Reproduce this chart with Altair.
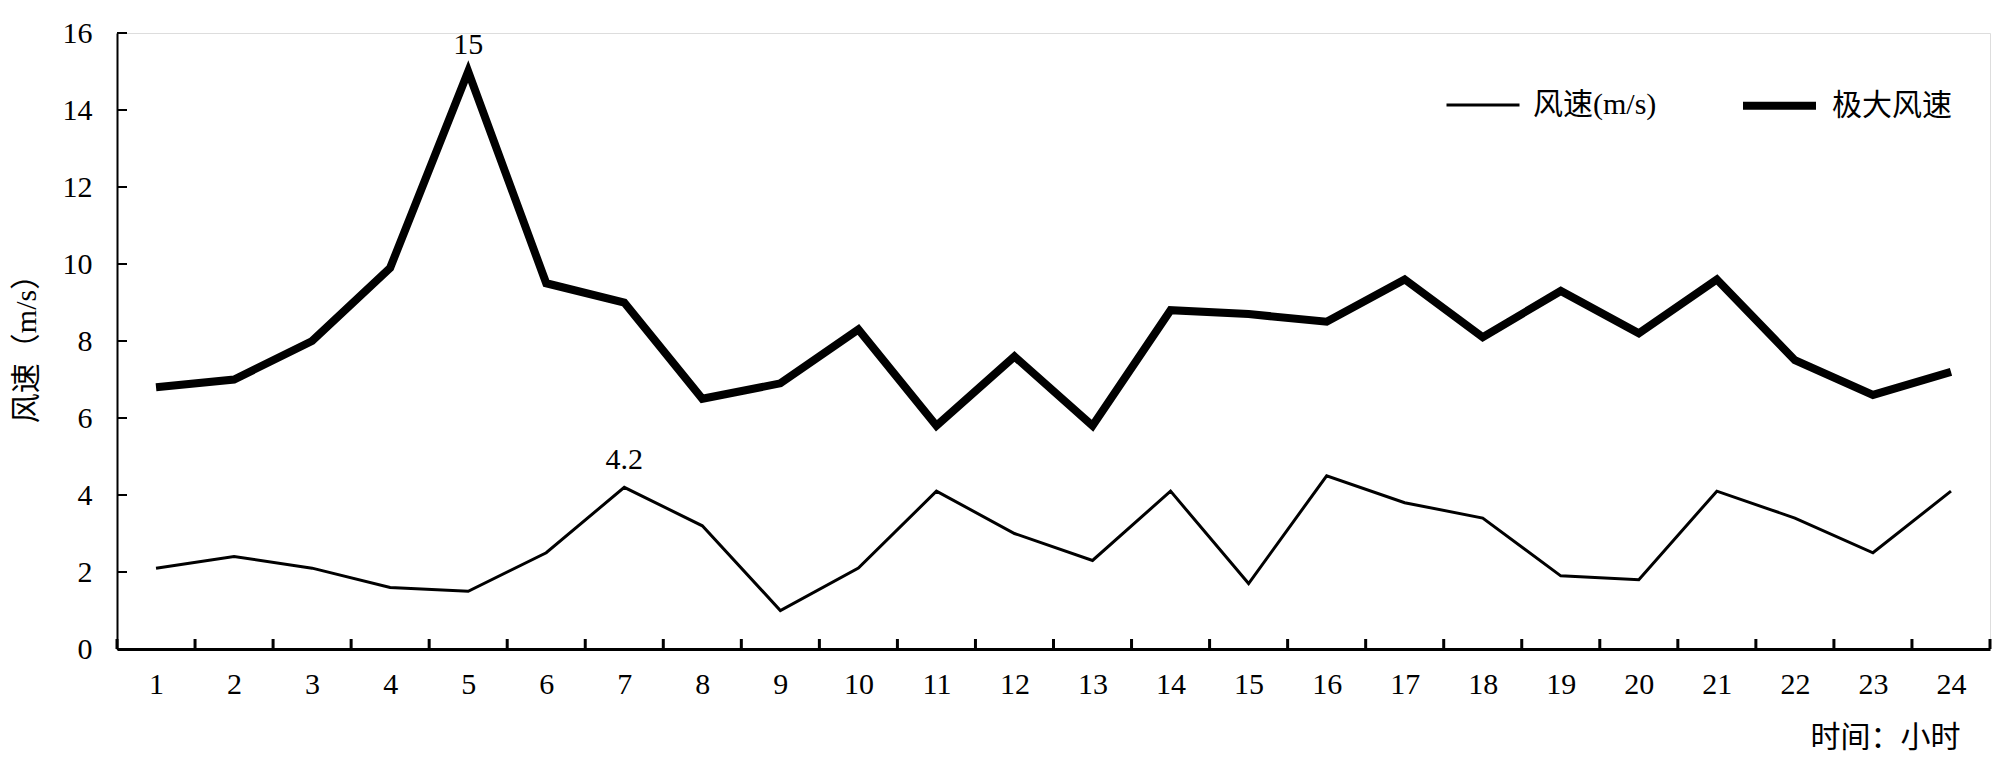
import altair as alt
import pandas as pd

hours = list(range(1, 25))
wind = [2.1, 2.4, 2.1, 1.6, 1.5, 2.5, 4.2, 3.2, 1.0, 2.1, 4.1, 3.0,
        2.3, 4.1, 1.7, 4.5, 3.8, 3.4, 1.9, 1.8, 4.1, 3.4, 2.5, 4.1]
gust = [6.8, 7.0, 8.0, 9.9, 15.0, 9.5, 9.0, 6.5, 6.9, 8.3, 5.8, 7.6,
        5.8, 8.8, 8.7, 8.5, 9.6, 8.1, 9.3, 8.2, 9.6, 7.5, 6.6, 7.2]
series_names = ["风速(m/s)", "极大风速"]
y_ticks = [0, 2, 4, 6, 8, 10, 12, 14, 16]

ann_hours = [5, 7]
ann_values = [15.0, 4.2]
ann_text = ["15", "4.2"]

FONT = "'Liberation Serif', 'Noto Sans CJK SC'"
W, H = 1873, 616

df = pd.DataFrame({
    "hour": hours * 2,
    "value": wind + gust,
    "series": [series_names[0]] * 24 + [series_names[1]] * 24,
})
ann = pd.DataFrame({"hour": ann_hours, "value": ann_values, "text": ann_text})
xt = pd.DataFrame({"b": [h - 0.5 for h in hours] + [hours[-1] + 0.5]})
yt = pd.DataFrame({"v": y_ticks})

xscale = alt.Scale(domain=[0.5, 24.5], nice=False, zero=False)
yscale = alt.Scale(domain=[0, 16], nice=False)

lines = alt.Chart(df).mark_line(color="black", strokeJoin="miter").encode(
    x=alt.X("hour:Q", scale=xscale,
            axis=alt.Axis(values=hours, format="d", ticks=False, grid=False,
                          domainColor="black", domainWidth=3,
                          labelFontSize=30, labelFont=FONT, labelColor="black",
                          labelPadding=20, labelFlush=False,
                          title="时间：小时", titleFont=FONT, titleFontSize=30,
                          titleFontWeight="normal", titleColor="black",
                          titleX=1843, titleY=88, titleAlign="right",
                          titleBaseline="middle")),
    y=alt.Y("value:Q", scale=yscale,
            axis=alt.Axis(values=y_ticks, format="d", ticks=False, grid=False,
                          domainColor="black", domainWidth=2,
                          labelFontSize=30, labelFont=FONT, labelColor="black",
                          labelPadding=25,
                          title="风速（m/s）", titleFont=FONT, titleFontSize=30,
                          titleFontWeight="normal", titleColor="black",
                          titleX=-91, titleY=H / 2, titleAngle=-90,
                          titleAlign="center", titleBaseline="middle")),
    strokeWidth=alt.StrokeWidth(
        "series:N",
        scale=alt.Scale(domain=series_names, range=[3, 8]),
        legend=alt.Legend(orient="none", legendX=1328, legendY=32,
                          direction="horizontal", title=None,
                          symbolType="stroke", symbolSize=5329,
                          symbolStrokeColor="black",
                          labelFontSize=30, labelFont=FONT, labelColor="black",
                          labelOffset=12, columnPadding=70, padding=0)),
)

labels = alt.Chart(ann).mark_text(
    font=FONT, fontSize=30, color="black", baseline="bottom", dy=-12
).encode(x=alt.X("hour:Q", scale=xscale), y=alt.Y("value:Q", scale=yscale),
         text="text:N")

xticks = alt.Chart(xt).mark_rule(color="black", strokeWidth=3).encode(
    x=alt.X("b:Q", scale=xscale), y=alt.value(H), y2=alt.value(H - 10))

yticks = alt.Chart(yt).mark_rule(color="black", strokeWidth=2).encode(
    y=alt.Y("v:Q", scale=yscale), x=alt.value(0), x2=alt.value(10))

chart = alt.layer(xticks, yticks, lines, labels).properties(
    width=W, height=H,
    autosize=alt.AutoSizeParams(type="none"),
    padding={"left": 109, "top": 25, "right": 2, "bottom": 108},
).configure_view(stroke=None).configure(background="white")

chart.save("out.html", embed_options={"renderer": "svg", "actions": False})
